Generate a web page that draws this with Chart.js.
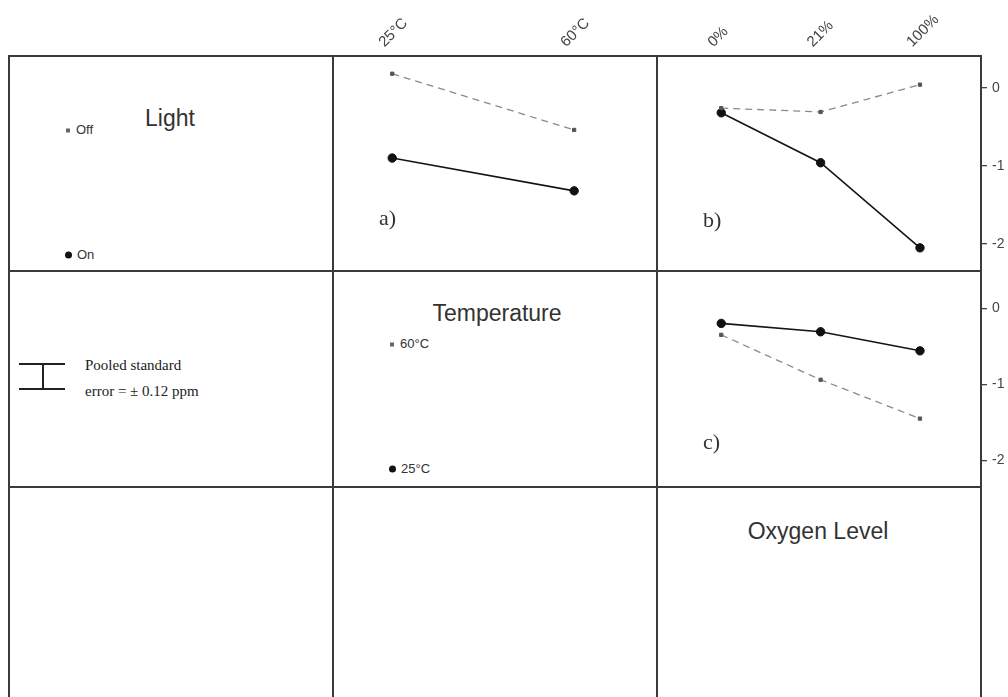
<!DOCTYPE html>
<html>
<head>
<meta charset="utf-8">
<script src="https://cdn.jsdelivr.net/npm/chart.js@4.4.1/dist/chart.umd.min.js"></script>
<style>
    body { margin: 0; background: #fff; }
    #wrap { position: relative; width: 1008px; height: 697px; overflow: hidden; font-family: "Liberation Sans", Arial, sans-serif; color: #333; }
    canvas { position: absolute; }
    .hl, .vl { position: absolute; background: #3a3a3a; }
    .hl { height: 1.5px; }
    .vl { width: 1.5px; }
    .c { position: absolute; transform: translate(-50%, -50%); white-space: nowrap; }
    .t { position: absolute; transform: translateY(-50%); white-space: nowrap; }
    .sq { display: inline-block; width: 4px; height: 4px; background: #666; vertical-align: middle; margin-right: 6px; }
    .dot { display: inline-block; width: 7px; height: 7px; border-radius: 50%; background: #111; vertical-align: middle; margin-right: 5px; }
    .serif { font-family: "Liberation Serif", "Times New Roman", serif; }
</style>
</head>
<body>
<div id="wrap">
    <!-- grid -->
    <div class="hl" style="left:9px; top:55px; width:973px;"></div>
    <div class="hl" style="left:9px; top:270px; width:973px;"></div>
    <div class="hl" style="left:9px; top:486px; width:973px;"></div>
    <div class="vl" style="left:8px; top:55px; height:642px;"></div>
    <div class="vl" style="left:332px; top:55px; height:642px;"></div>
    <div class="vl" style="left:656px; top:55px; height:642px;"></div>
    <div class="vl" style="left:980px; top:55px; height:642px;"></div>

    <canvas id="panelA" width="324" height="271" style="left:333px; top:0;"></canvas>
    <canvas id="panelB" width="351" height="271" style="left:657px; top:0;"></canvas>
    <canvas id="panelC" width="351" height="216" style="left:657px; top:271px;"></canvas>

    <!-- diagonal cells -->
    <div class="c" style="left:170px; top:118px; font-size:23px;">Light</div>
    <div class="t" style="left:66px; top:129px; font-size:13px;"><span class="sq"></span>Off</div>
    <div class="t" style="left:65px; top:254px; font-size:13px;"><span class="dot"></span>On</div>

    <div class="c" style="left:497px; top:313px; font-size:23px;">Temperature</div>
    <div class="t" style="left:390px; top:343px; font-size:13px;"><span class="sq"></span>60°C</div>
    <div class="t" style="left:389px; top:468px; font-size:13px;"><span class="dot"></span>25°C</div>

    <div class="c" style="left:818px; top:531px; font-size:23px; font-family:'Liberation Sans Narrow','Liberation Sans',Arial,sans-serif;">Oxygen Level</div>

    <!-- panel tags -->
    <div class="t serif" style="left:379px; top:218px; font-size:22px;">a)</div>
    <div class="t serif" style="left:703px; top:220px; font-size:22px;">b)</div>
    <div class="t serif" style="left:703px; top:442px; font-size:22px;">c)</div>

    <!-- pooled standard error -->
    <div class="hl" style="left:19px; top:363px; width:46px; background:#222;"></div>
    <div class="hl" style="left:19px; top:388px; width:46px; background:#222;"></div>
    <div class="vl" style="left:42px; top:363px; height:25px; background:#222;"></div>
    <div class="t serif" style="left:85px; top:365px; font-size:15px; color:#222;">Pooled standard</div>
    <div class="t serif" style="left:85px; top:391px; font-size:15px; color:#222;">error = ± 0.12 ppm</div>
</div>

<script>
const tempLabels = ['25°C', '60°C'];
const oxyLabels = ['0%', '21%', '100%'];
const yTicks = [0, -1, -2];

// a) Light x Temperature
const aLightOff = [0.18, -0.54];
const aLightOn = [-0.9, -1.32];

// b) Light x Oxygen
const bLightOff = [-0.26, -0.31, 0.04];
const bLightOn = [-0.32, -0.96, -2.05];

// c) Temperature x Oxygen
const cTemp60 = [-0.35, -0.94, -1.45];
const cTemp25 = [-0.2, -0.31, -0.56];

const Y_MIN = -2.28, Y_MAX = 0.42;
const tickFont = { family: '"Liberation Sans", Arial, sans-serif', size: 14 };

function toPoints(values) {
    return values.map((v, i) => ({ x: i, y: v }));
}

function dashedSeries(values) {
    return {
        data: toPoints(values),
        borderColor: '#8a8a8a',
        borderWidth: 1.3,
        borderDash: [7, 5],
        pointStyle: 'rect',
        pointRadius: 2.3,
        pointBackgroundColor: '#555',
        pointBorderColor: '#555',
        pointBorderWidth: 1
    };
}

function solidSeries(values) {
    return {
        data: toPoints(values),
        borderColor: '#151515',
        borderWidth: 1.6,
        pointStyle: 'circle',
        pointRadius: 4.2,
        pointBackgroundColor: '#111',
        pointBorderColor: '#111',
        pointBorderWidth: 1
    };
}

function makePanel(id, labels, xMin, xMax, datasets, showTop, showRight) {
    new Chart(document.getElementById(id), {
        type: 'line',
        data: { datasets: datasets },
        options: {
            responsive: false,
            animation: false,
            events: [],
            layout: { padding: 0 },
            plugins: { legend: { display: false }, tooltip: { enabled: false } },
            scales: {
                x: {
                    type: 'linear',
                    position: 'top',
                    display: showTop,
                    min: xMin,
                    max: xMax,
                    afterBuildTicks: s => { s.ticks = labels.map((_, i) => ({ value: i })); },
                    afterFit: s => {
                        s.height = showTop ? 55 : 0;
                        s.paddingLeft = 0;
                        s.paddingRight = 0;
                    },
                    grid: { display: false },
                    border: { display: false },
                    ticks: {
                        callback: v => labels[v],
                        minRotation: 45,
                        maxRotation: 45,
                        labelOffset: 2,
                        padding: -4,
                        color: '#444',
                        font: { family: tickFont.family, size: 15 }
                    }
                },
                y: {
                    type: 'linear',
                    position: 'right',
                    display: showRight,
                    min: Y_MIN,
                    max: Y_MAX,
                    afterBuildTicks: s => { s.ticks = yTicks.map(v => ({ value: v })); },
                    afterFit: s => { s.width = 27; s.paddingTop = 0; s.paddingBottom = 0; },
                    grid: { drawOnChartArea: false, drawTicks: true, tickLength: 6, color: '#444', lineWidth: 1.3 },
                    border: { display: false },
                    ticks: { padding: 5, color: '#444', font: tickFont }
                }
            }
        }
    });
}

// temperature panel: 2 levels, oxygen panels: 3 levels, same pixel margins
makePanel('panelA', tempLabels, -0.297, 1.307,
    [dashedSeries(aLightOff), solidSeries(aLightOn)], true, false);
makePanel('panelB', oxyLabels, -0.594, 2.614,
    [dashedSeries(bLightOff), solidSeries(bLightOn)], true, true);
makePanel('panelC', oxyLabels, -0.594, 2.614,
    [dashedSeries(cTemp60), solidSeries(cTemp25)], false, true);
</script>
</body>
</html>
